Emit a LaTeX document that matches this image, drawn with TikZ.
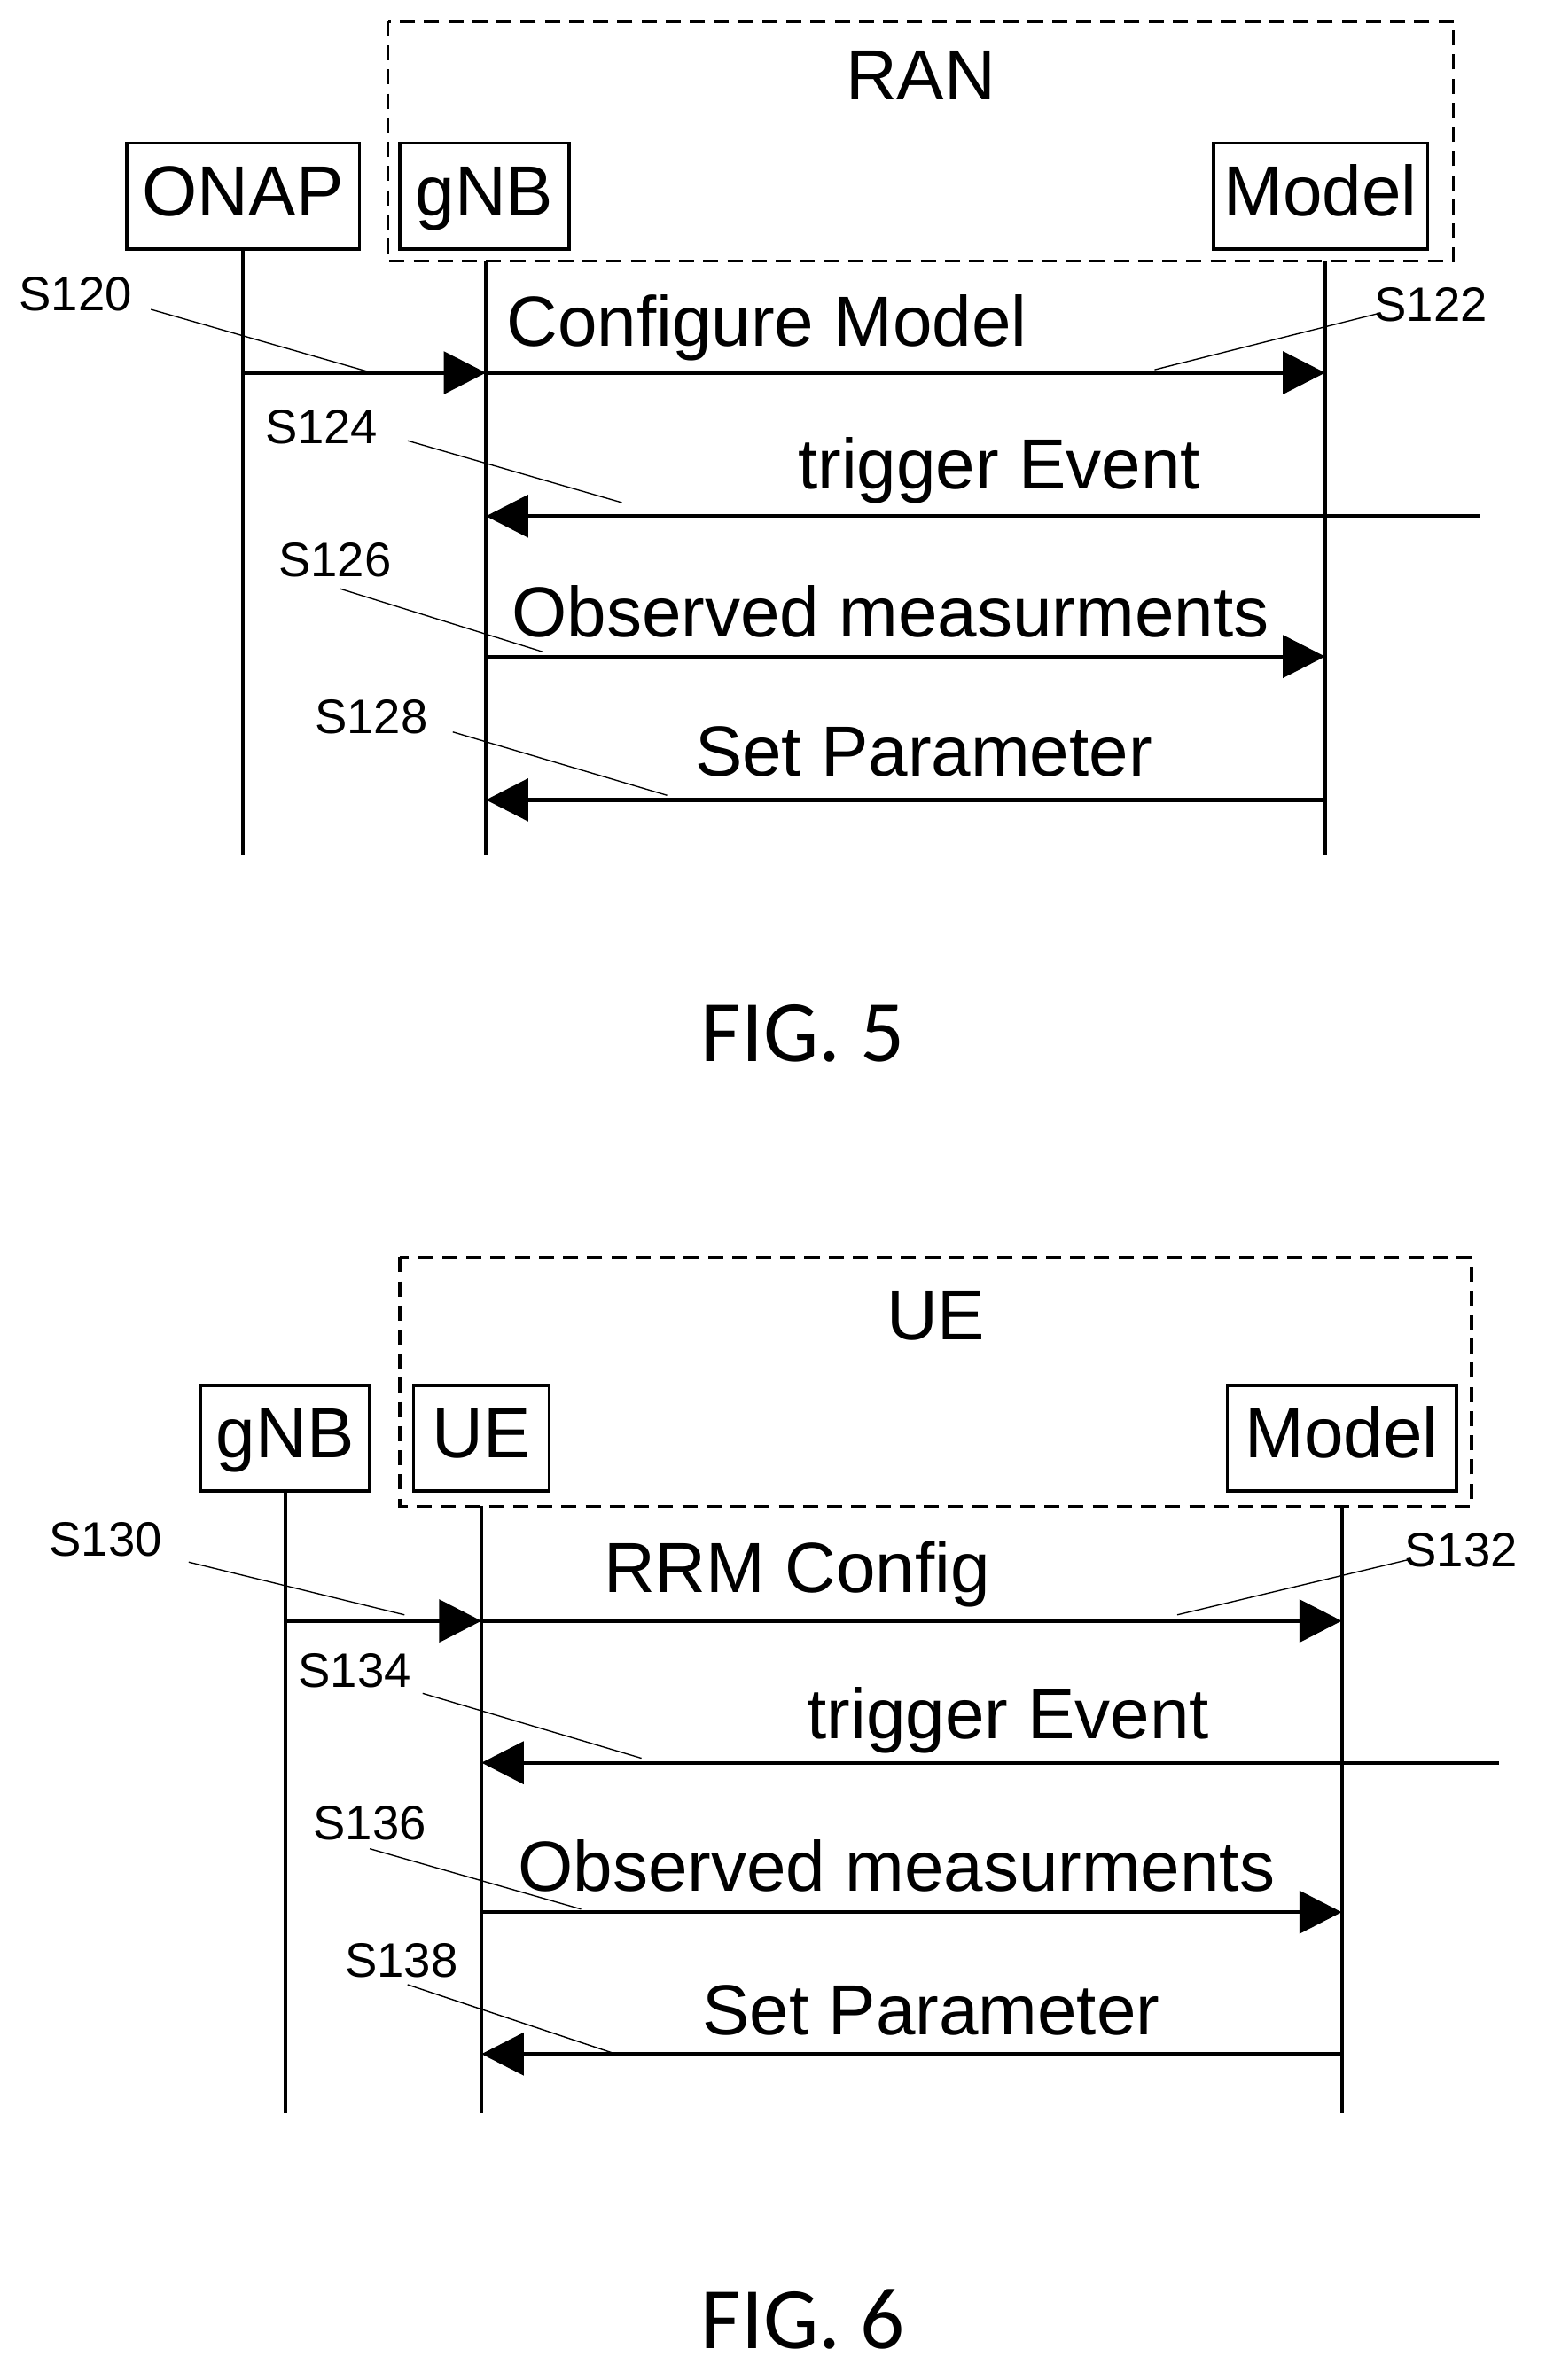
\documentclass[tikz,border=0pt]{standalone}
\usepackage{fontspec}
\setmainfont{Liberation Sans}
\newfontfamily\figfont{Carlito}
\usetikzlibrary{arrows.meta}
\begin{document}
\begin{tikzpicture}[x=1pt,y=-1pt,
  box/.style={draw,line width=2pt,inner sep=0pt,text height=34pt,text depth=8pt,font=\fontsize{47}{47}\selectfont},
  grp/.style={draw,dashed,line width=2pt,dash pattern=on 10pt off 6pt},
  life/.style={line width=2.5pt},
  msg/.style={line width=2.5pt,-{Triangle[length=28pt,width=28pt]}},
  lbl/.style={font=\fontsize{47}{47}\selectfont,inner sep=0pt},
  stp/.style={font=\fontsize{32}{32}\selectfont,inner sep=0pt},
  lead/.style={line width=0.8pt},
  fig/.style={font=\figfont\fontsize{58}{58}\selectfont,inner sep=0pt}]
\useasboundingbox (0,0) rectangle (1024,1577);
% ---------- FIG 5
\draw[grp] (257,14) rectangle (963,173);
\node[lbl] (ran) at (610,50) {RAN};
\node[box,minimum width=154pt,minimum height=70pt] (onap) at (161,130) {ONAP};
\node[box,minimum width=112pt,minimum height=70pt] (gnb) at (321,130) {gNB};
\node[box,minimum width=142pt,minimum height=70pt] (model) at (875,130) {Model};
\coordinate (onapT) at (161,165); \coordinate (onapB) at (161,567);
\coordinate (gnbT) at (322,173); \coordinate (gnbB) at (322,567);
\coordinate (modT) at (878,173); \coordinate (modB) at (878,567);
\draw[life] (onapT)--(onapB); \draw[life] (gnbT)--(gnbB); \draw[life] (modT)--(modB);
\coordinate (a1) at (161,247); \coordinate (a2) at (322,247); \coordinate (a3) at (878,247);
\draw[msg] (a1)--(a2); \draw[msg] (a2)--(a3);
\node[lbl] (l1) at (508,217) {Configure Model};
\coordinate (b1) at (980,342); \coordinate (b2) at (322,342);
\draw[msg] (b1)--(b2);
\node[lbl] (l2) at (662,312) {trigger Event};
\coordinate (c1) at (322,435); \coordinate (c2) at (878,435);
\draw[msg] (c1)--(c2);
\node[lbl] (l3) at (590,405) {Observed measurments};
\coordinate (d1) at (878,530); \coordinate (d2) at (322,530);
\draw[msg] (d1)--(d2);
\node[lbl] (l4) at (612,498) {Set Parameter};
\node[stp] (s120) at (50,195) {S120}; \draw[lead] (100,205)--(243,246);
\node[stp] (s122) at (948,202) {S122}; \draw[lead] (912,208)--(765,245);
\node[stp] (s124) at (213,283) {S124}; \draw[lead] (270,292)--(412,333);
\node[stp] (s126) at (222,371) {S126}; \draw[lead] (225,390)--(360,432);
\node[stp] (s128) at (246,475) {S128}; \draw[lead] (300,485)--(442,527);
\node[fig] (f5) at (532,685) {FIG. 5};
% ---------- FIG 6
\draw[grp] (265,833) rectangle (975,998);
\node[lbl] (ue) at (620,872) {UE};
\node[box,minimum width=112pt,minimum height=70pt] (gnb2) at (189,953) {gNB};
\node[box,minimum width=90pt,minimum height=70pt] (ue2) at (319,953) {UE};
\node[box,minimum width=152pt,minimum height=70pt] (model2) at (889,953) {Model};
\coordinate (g2T) at (189,988); \coordinate (g2B) at (189,1400);
\coordinate (u2T) at (319,998); \coordinate (u2B) at (319,1400);
\coordinate (m2T) at (889,998); \coordinate (m2B) at (889,1400);
\draw[life] (g2T)--(g2B); \draw[life] (u2T)--(u2B); \draw[life] (m2T)--(m2B);
\coordinate (e1) at (189,1074); \coordinate (e2) at (319,1074); \coordinate (e3) at (889,1074);
\draw[msg] (e1)--(e2); \draw[msg] (e2)--(e3);
\node[lbl] (m1) at (528,1043) {RRM Config};
\coordinate (f1) at (993,1168); \coordinate (f2) at (319,1168);
\draw[msg] (f1)--(f2);
\node[lbl] (m2) at (668,1140) {trigger Event};
\coordinate (g1) at (319,1267); \coordinate (g2) at (889,1267);
\draw[msg] (g1)--(g2);
\node[lbl] (m3) at (594,1236) {Observed measurments};
\coordinate (h1) at (889,1361); \coordinate (h2) at (319,1361);
\draw[msg] (h1)--(h2);
\node[lbl] (m4) at (617,1332) {Set Parameter};
\node[stp] (s130) at (70,1020) {S130}; \draw[lead] (125,1035)--(268,1070);
\node[stp] (s132) at (968,1027) {S132}; \draw[lead] (935,1033)--(780,1070);
\node[stp] (s134) at (235,1107) {S134}; \draw[lead] (280,1122)--(425,1165);
\node[stp] (s136) at (245,1208) {S136}; \draw[lead] (245,1225)--(385,1265);
\node[stp] (s138) at (266,1299) {S138}; \draw[lead] (270,1315)--(405,1360);
\node[fig] (f6) at (532,1537) {FIG. 6};
\end{tikzpicture}
\end{document}
